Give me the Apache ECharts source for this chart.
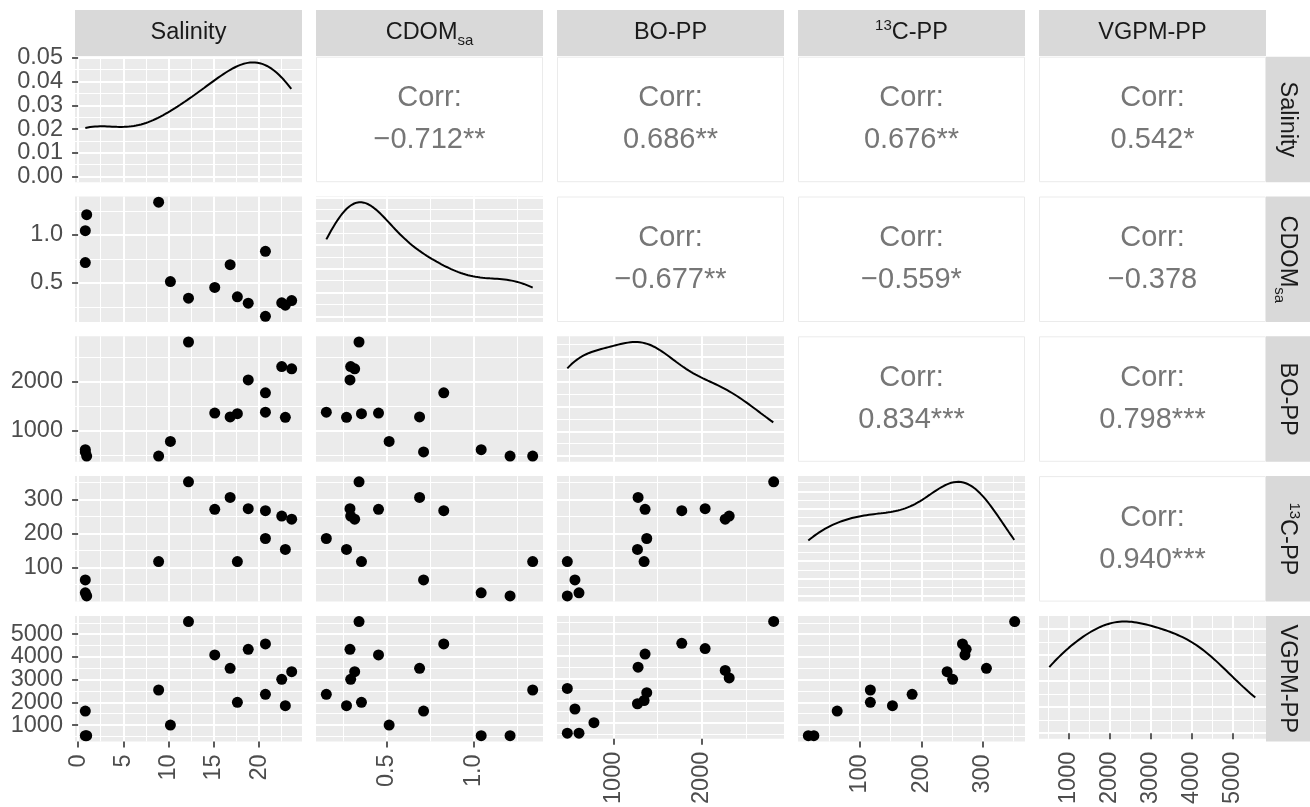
<!DOCTYPE html>
<html>
<head>
<meta charset="utf-8">
<script src="https://cdn.jsdelivr.net/npm/echarts@6/dist/echarts.min.js"></script>
<style>
  html, body { margin: 0; padding: 0; background: #ffffff; }
  #chart { width: 1310px; height: 807px; }
</style>
</head>
<body>
<div id="chart"></div>
<script>
// Measurements per station (one entry per sample, same order in every array)
const salinity = [0.95, 0.8, 0.8, 8.9, 10.2, 12.2, 15.1, 16.8, 17.6, 18.8, 20.7, 20.7, 22.5, 22.9, 23.6];
const cdomSa   = [1.21, 1.044, 0.713, 1.34, 0.515, 0.342, 0.454, 0.69, 0.356, 0.29, 0.829, 0.154, 0.294, 0.27, 0.317];
const boPP     = [479, 611, 565, 479, 780, 2812, 1358, 1279, 1347, 2037, 1773, 1377, 2309, 1272, 2264];
const c13PP    = [16, 25, 63, 117, null, 352, 271, 306, 117, 273, 267, 185, 251, 153, 242];
const vgpmPP   = [530, 530, 1617, 2544, 1000, 5557, 4088, 3500, 2000, 4338, 4573, 2353, 3015, 1853, 3353];

// Axis breaks
const salinityTicks = [0, 5, 10, 15, 20];
const cdomTicks = [0.5, 1.0];
const boTicks = [1000, 2000];
const c13Ticks = [100, 200, 300];
const vgpmTicks = [1000, 2000, 3000, 4000, 5000];
const salinityDensityTicks = [0, 0.01, 0.02, 0.03, 0.04, 0.05];

// Strip titles (rich text markup)
const stripLabels = ['{b|Salinity}', '{b|CDOM}{sub|sa}', '{b|BO-PP}', '{sup|13}{b|C-PP}', '{b|VGPM-PP}'];

// Pearson correlations for the upper triangle: [row, col, label]
const corrLabels = [
  [0, 1, '\u22120.712**'], [0, 2, '0.686**'], [0, 3, '0.676**'], [0, 4, '0.542*'],
  [1, 2, '\u22120.677**'], [1, 3, '\u22120.559*'], [1, 4, '\u22120.378'],
  [2, 3, '0.834***'], [2, 4, '0.798***'],
  [3, 4, '0.940***']
];

const variables = [
  { values: salinity, ticks: salinityTicks, digits: 0 },
  { values: cdomSa,   ticks: cdomTicks,     digits: 1 },
  { values: boPP,     ticks: boTicks,       digits: 0 },
  { values: c13PP,    ticks: c13Ticks,      digits: 0 },
  { values: vgpmPP,   ticks: vgpmTicks,     digits: 0 }
];

// ---- layout ----
const FONT = '"Liberation Sans", Arial, Helvetica, sans-serif';
const TICK_FS = 23.5, STRIP_FS = 23.5, CORR_FS = 29;
const panelLeft0 = 75, colStep = 241, panelW = 227;
const panelTop0 = 56.7, rowStep = 139.8, panelH = 125.5;
const stripTop = 10, stripH = 46;
const stripX = panelLeft0 + 4 * colStep + panelW, stripW = 44;
const colLeft = c => panelLeft0 + c * colStep;
const rowTop = r => panelTop0 + r * rowStep;

// ---- helpers ----
const clean = v => v.filter(x => x != null);
function expandRange(lo, hi) { const s = hi - lo; return [lo - 0.05 * s, hi + 0.05 * s]; }
function quantile7(sorted, p) {
  const h = (sorted.length - 1) * p, i = Math.floor(h);
  return sorted[i] + (h - i) * ((sorted[i + 1] ?? sorted[i]) - sorted[i]);
}
function bwNrd0(x) {
  const n = x.length, m = x.reduce((a, b) => a + b, 0) / n;
  const sd = Math.sqrt(x.reduce((a, b) => a + (b - m) ** 2, 0) / (n - 1));
  const s = [...x].sort((a, b) => a - b);
  const iqr = quantile7(s, 0.75) - quantile7(s, 0.25);
  let lo = Math.min(sd, iqr / 1.34);
  if (!(lo > 0)) lo = sd || Math.abs(s[0]) || 1;
  return 0.9 * lo * Math.pow(n, -0.2);
}
// Gaussian kernel density over the observed range (512 points)
function kde(x) {
  const bw = bwNrd0(x), n = x.length;
  const lo = Math.min(...x), hi = Math.max(...x), N = 512;
  const k = 1 / (bw * Math.sqrt(2 * Math.PI) * n);
  const out = [];
  for (let i = 0; i < N; i++) {
    const g = lo + (hi - lo) * i / (N - 1);
    let d = 0;
    for (const xi of x) { const z = (g - xi) / bw; d += Math.exp(-0.5 * z * z); }
    out.push([g, d * k]);
  }
  return out;
}
function niceStep(v) {
  const e = Math.pow(10, Math.floor(Math.log10(v))), f = v / e;
  const n = f < 1.5 ? 1 : f < 2.25 ? 2 : f < 3.5 ? 2.5 : f < 7.5 ? 5 : 10;
  return n * e;
}
function minorBreaks(ticks, ext) {
  const step = ticks.length > 1 ? ticks[1] - ticks[0] : (ext[1] - ext[0]);
  const out = [];
  for (let i = -1; i < ticks.length; i++) {
    const v = (i < 0 ? ticks[0] - step : ticks[i]) + step / 2;
    if (v > ext[0] && v < ext[1]) out.push(+v.toFixed(10));
  }
  return out;
}
const evenOf = a => a.filter((_, i) => i % 2 === 0);
const oddOf = a => a.filter((_, i) => i % 2 === 1);

// ---- per-variable scales and densities ----
variables.forEach((v, i) => {
  const vals = clean(v.values);
  v.ext = expandRange(Math.min(...vals), Math.max(...vals));
  v.minors = minorBreaks(v.ticks, v.ext);
  v.density = kde(vals);
  const dmax = Math.max(...v.density.map(p => p[1]));
  v.dExt = [-0.05 * dmax, 1.05 * dmax];
  if (i === 0) {
    v.dTicks = salinityDensityTicks;
  } else {
    const st = niceStep(dmax / 5), t = [];
    for (let q = 0; q <= v.dExt[1] + 1e-12; q += st) t.push(+q.toPrecision(8));
    v.dTicks = t;
  }
  v.dMinors = minorBreaks(v.dTicks, v.dExt);
});

const grids = [], xAxes = [], yAxes = [], series = [], graphics = [];

function labelStyle(dim, show, values, digits) {
  return {
    show, customValues: values, color: '#4D4D4D', fontSize: TICK_FS, fontFamily: FONT,
    margin: dim === 'x' ? 13 : 12, rotate: dim === 'x' ? 90 : 0,
    showMinLabel: true, showMaxLabel: true, hideOverlap: false,
    formatter: val => Number(val).toFixed(digits)
  };
}
// Major breaks: white grid lines, tick marks and every other label
function mainAxis(dim, gridIndex, ext, ticks, showLabels, digits) {
  return {
    type: 'value', gridIndex, min: ext[0], max: ext[1], scale: true,
    position: dim === 'x' ? 'bottom' : 'left',
    axisLine: { show: false },
    axisTick: { show: showLabels, customValues: ticks, length: 6, lineStyle: { color: '#333333', width: 1.6 } },
    axisLabel: labelStyle(dim, showLabels, evenOf(ticks), digits),
    splitLine: { show: true, lineStyle: { color: '#FFFFFF', width: 2 } },
    minorTick: { show: false }, minorSplitLine: { show: false }
  };
}
// Minor breaks: thin grid lines; also carries the remaining labels
function minorAxis(dim, gridIndex, ext, minors, ticks, showLabels, digits) {
  return {
    type: 'value', gridIndex, min: ext[0], max: ext[1], scale: true,
    position: dim === 'x' ? 'bottom' : 'left',
    axisLine: { show: false },
    axisTick: { show: false, customValues: minors },
    axisLabel: labelStyle(dim, showLabels && oddOf(ticks).length > 0, oddOf(ticks), digits),
    splitLine: { show: true, lineStyle: { color: '#FFFFFF', width: 1 } }
  };
}

for (let r = 0; r < 5; r++) {
  for (let c = 0; c < 5; c++) {
    const L = colLeft(c), T = rowTop(r);
    if (r < c) {
      // correlation panel
      const lab = corrLabels.find(d => d[0] === r && d[1] === c);
      graphics.push({ type: 'rect', shape: { x: L + 0.5, y: T + 0.5, width: panelW - 1, height: panelH - 1 },
        style: { fill: '#FFFFFF', stroke: '#EBEBEB', lineWidth: 1 }, silent: true });
      graphics.push({ type: 'text', x: L + panelW / 2, y: T + panelH / 2 - 21,
        style: { text: 'Corr:', fill: '#767676', fontSize: CORR_FS, fontFamily: FONT, align: 'center', verticalAlign: 'middle' } });
      graphics.push({ type: 'text', x: L + panelW / 2, y: T + panelH / 2 + 21,
        style: { text: lab[2], fill: '#767676', fontSize: CORR_FS, fontFamily: FONT, align: 'center', verticalAlign: 'middle' } });
      continue;
    }
    const gi = grids.length;
    grids.push({ left: L, top: T, width: panelW, height: panelH, show: true,
      backgroundColor: '#EBEBEB', borderWidth: 0 });
    const xv = variables[c];
    xAxes.push(minorAxis('x', gi, xv.ext, xv.minors, xv.ticks, r === 4, xv.digits));
    xAxes.push(mainAxis('x', gi, xv.ext, xv.ticks, r === 4, xv.digits));
    const xi = xAxes.length - 1;
    if (r === c) {
      yAxes.push(minorAxis('y', gi, xv.dExt, xv.dMinors, xv.dTicks, c === 0, 2));
      yAxes.push(mainAxis('y', gi, xv.dExt, xv.dTicks, c === 0, 2));
      series.push({ type: 'line', xAxisIndex: xi, yAxisIndex: yAxes.length - 1, data: xv.density,
        showSymbol: false, symbol: 'none', smooth: false,
        lineStyle: { color: '#000000', width: 2 }, silent: true });
    } else {
      const yv = variables[r];
      yAxes.push(minorAxis('y', gi, yv.ext, yv.minors, yv.ticks, c === 0, yv.digits));
      yAxes.push(mainAxis('y', gi, yv.ext, yv.ticks, c === 0, yv.digits));
      const pts = [];
      for (let i = 0; i < xv.values.length; i++) {
        if (xv.values[i] != null && yv.values[i] != null) pts.push([xv.values[i], yv.values[i]]);
      }
      series.push({ type: 'scatter', xAxisIndex: xi, yAxisIndex: yAxes.length - 1, data: pts,
        symbol: 'circle', symbolSize: 11, itemStyle: { color: '#000000', opacity: 1 }, silent: true });
    }
  }
}

// strips
const stripRich = {
  b:   { fontSize: STRIP_FS, fontFamily: FONT, fill: '#1A1A1A', lineHeight: 30 },
  sub: { fontSize: 15, fontFamily: FONT, fill: '#1A1A1A', lineHeight: 14, verticalAlign: 'bottom' },
  sup: { fontSize: 15, fontFamily: FONT, fill: '#1A1A1A', lineHeight: 14, verticalAlign: 'top' }
};
for (let c = 0; c < 5; c++) {
  graphics.push({ type: 'rect', shape: { x: colLeft(c), y: stripTop, width: panelW, height: stripH },
    style: { fill: '#D9D9D9' }, silent: true });
  graphics.push({ type: 'text', x: colLeft(c) + panelW / 2, y: stripTop + stripH / 2,
    style: { text: stripLabels[c], rich: stripRich, align: 'center', verticalAlign: 'middle' }, silent: true });
}
for (let r = 0; r < 5; r++) {
  graphics.push({ type: 'rect', shape: { x: stripX, y: rowTop(r), width: stripW, height: panelH },
    style: { fill: '#D9D9D9' }, silent: true });
  graphics.push({ type: 'text', x: stripX + 21, y: rowTop(r) + panelH / 2, rotation: -Math.PI / 2,
    style: { text: stripLabels[r], rich: stripRich, align: 'center', verticalAlign: 'middle' }, silent: true });
}

const chart = echarts.init(document.getElementById('chart'), null, { renderer: 'canvas' });
chart.setOption({
  animation: false,
  backgroundColor: '#FFFFFF',
  grid: grids,
  xAxis: xAxes,
  yAxis: yAxes,
  series: series,
  graphic: { elements: graphics }
});
</script>
</body>
</html>
